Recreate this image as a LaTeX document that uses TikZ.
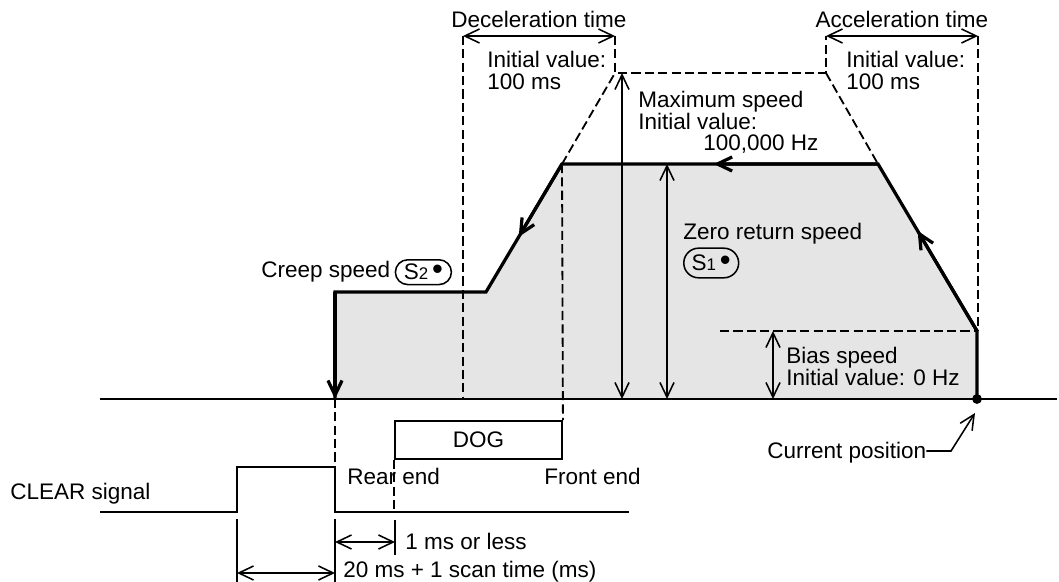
\documentclass[tikz,border=0pt]{standalone}
\usepackage{fontspec}
\setmainfont{Liberation Sans}
\usetikzlibrary{arrows.meta,positioning,calc,shapes.misc}
\definecolor{areagray}{HTML}{E5E5E5}
\newcommand\sdev[1]{S{\fontsize{12}{12}\selectfont #1}\,{\fontsize{22}{16}\selectfont •}}

\begin{document}
\begin{tikzpicture}[x=0.025cm,y=-0.025cm,>={Straight Barb[length=10.5pt,width=10pt]},font=\fontsize{16}{16}\selectfont]
\tikzstyle{profile}=[line width=2.3pt,line join=miter]
\tikzstyle{dim}=[line width=1.1pt,<->]
\tikzstyle{ext}=[line width=1.1pt]
\tikzstyle{guide}=[line width=1.3pt,dash pattern=on 6.5pt off 3pt]
\tikzstyle{sig}=[line width=1.5pt]
\tikzstyle{txt}=[inner sep=0pt,anchor=base west,align=left]
\tikzstyle{oval}=[draw,line width=1.1pt,rounded rectangle,inner xsep=4pt,inner ysep=0pt,minimum height=0.74cm]
\useasboundingbox (0,0) rectangle (1059,582);
\coordinate (cur) at (977,399);
\coordinate (bias) at (977,331);
\coordinate (topR) at (878,164);
\coordinate (topL) at (562,164);
\coordinate (creepR) at (486,292);
\coordinate (creepL) at (335,292);
\coordinate (rear) at (335,399);
\coordinate (maxL) at (615,73);
\coordinate (maxR) at (826,73);
\coordinate (dtL) at (463,36);
\coordinate (dtR) at (615,36);
\coordinate (atL) at (826,36);
\coordinate (atR) at (978,36);
\coordinate (axL) at (100,399);
\coordinate (axR) at (1057,399);
\fill[areagray] (rear) -- (creepL) -- (creepR) -- (topL) -- (topR) -- (bias) -- (cur) -- cycle;
\draw[sig] (axL) -- (axR);
\draw[guide] (dtL) -- (dtL |- axL);
\draw[guide] (dtR) -- (maxL) -- (maxR) -- (atL);
\draw[guide] (topL) -- (maxL);
\draw[guide] (maxR) -- (topR);
\draw[guide] (atR) -- (atR |- bias);
\draw[guide] (720,331) -- (bias);
\draw[dim] (dtL) -- (dtR);
\draw[dim] (atL) -- (atR);
\draw[dim] (622,73) -- (622,399);
\draw[dim] (667,164) -- (667,399);
\draw[dim] (773,331) -- (773,399);
\draw[profile] (cur) -- (bias) -- (topR) -- (topL) -- (creepR) -- (creepL) -- (rear);
\draw[profile,->] (bias) -- ($(bias)!.6!(topR)$);
\draw[profile,->] (topR) -- ($(topR)!.52!(topL)$);
\draw[profile,->] (topL) -- ($(topL)!.57!(creepR)$);
\draw[profile,->] (creepL) -- (rear);
\fill (cur) circle (3.5pt);
\node[txt,anchor=base] (dectitle) at (539,28) {Deceleration time};
\node[txt,anchor=base] (acctitle) at (902,28) {Acceleration time};
\node[txt] (decinit) at (487,90) {Initial value:\\100 ms};
\node[txt] (accinit) at (846,90) {Initial value:\\100 ms};
\node[txt] (maxspd) at (638,130) {Maximum speed\\Initial value:};
\node[txt] (maxval) at (703,151) {100,000 Hz};
\node[txt] (zrs) at (683,240) {Zero return speed};
\node[oval,anchor=west] (s1) at (683,263) {\sdev{1}};
\node[txt] (creep) at (261,278) {Creep speed};
\node[oval,right=3pt of creep.east,anchor=west,minimum height=0.62cm] (s2) {\sdev{2}};
\node[txt] (biastxt) at (786,386) {Bias speed\\Initial value: 0 Hz};
\node[draw,line width=1.3pt,minimum width=4.175cm,minimum height=0.95cm,inner sep=0pt] (dog) at (478.5,440) {DOG};
\draw[guide] (topL) -- (dog.north east);
\coordinate (clr0) at (100,512);
\coordinate (clr1) at (237,512);
\coordinate (clr2) at (237,467);
\coordinate (clr3) at (335,467);
\coordinate (clr4) at (335,512);
\coordinate (clr5) at (629,512);
\draw[sig] (clr0) -- (clr1) -- (clr2) -- (clr3) -- (clr4) -- (clr5);
\draw[guide] (rear) -- (clr3);
\draw[guide] (dog.south west) -- (dog.south west |- clr0);
\node[txt] (reartxt) at (347,485) {Rear end};
\node[txt] (fronttxt) at (544,485) {Front end};
\node[txt] (clrtxt) at (10,500) {CLEAR signal};
\draw[ext] (237,519) -- (237,582);
\draw[ext] (335,519) -- (335,582);
\draw[ext] (395,520) -- (395,555);
\draw[dim] (335,542) -- (395,542);
\draw[dim] (237,573) -- (335,573);
\node[txt] (onems) at (405,550) {1 ms or less};
\node[txt] (scan) at (343,578) {20 ms + 1 scan time (ms)};
\node[txt] (curtxt) at (767,459) {Current position};
\coordinate (curbend) at (951,451);
\draw[ext,->] (curtxt.east |- curbend) -- (curbend) -- (975,413);
\end{tikzpicture}
\end{document}
